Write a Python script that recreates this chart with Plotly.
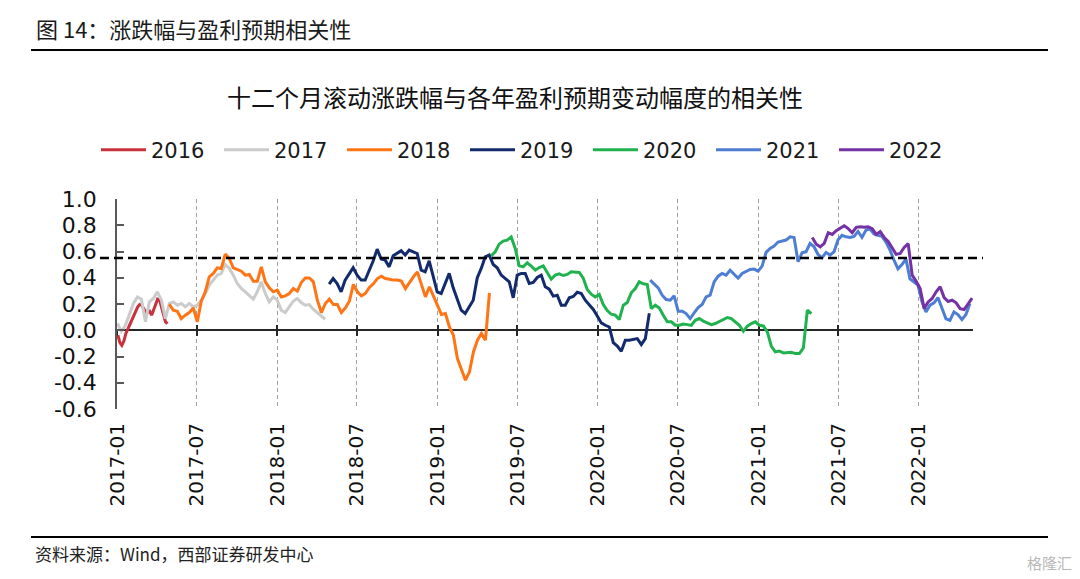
import plotly.graph_objects as go
import pandas as pd

# ---------------- data ----------------
SERIES_NAMES = ["2016", "2017", "2018", "2019", "2020", "2021", "2022"]
SERIES_START = ["2017-01-03", "2017-01-02", "2017-04-30", "2018-04-29", "2019-05-03", "2020-04-29", "2021-05-03"]
SERIES_END = ["2017-04-26", "2018-04-20", "2019-04-29", "2020-04-27", "2021-05-01", "2022-04-27", "2022-05-02"]

V2016 = [-0.038, -0.094, -0.115, -0.084, -0.025, 0.008, 0.043, 0.076, 0.109, 0.153, 0.178, 0.196, 0.191,
         0.165, 0.135, 0.135, 0.145, 0.115, 0.153, 0.196, 0.237, 0.229, 0.178, 0.135, 0.064, 0.051]

V2017 = [0.051, -0.008, 0.038, 0.115, 0.204, 0.254, 0.237, 0.064, 0.216, 0.242,
         0.293, 0.229, 0.089, 0.204, 0.216, 0.191, 0.204, 0.178, 0.204, 0.178,
         0.191, 0.229, 0.280, 0.344, 0.382, 0.420, 0.433, 0.501, 0.471, 0.420,
         0.356, 0.318, 0.293, 0.267, 0.237, 0.293, 0.369, 0.280, 0.216, 0.254,
         0.229, 0.153, 0.135, 0.178, 0.221, 0.242, 0.211, 0.191, 0.196, 0.160,
         0.135, 0.109, 0.084]

V2018 = [0.198, 0.153, 0.145, 0.089, 0.115, 0.135, 0.170, 0.064, 0.221, 0.293,
         0.407, 0.433, 0.476, 0.471, 0.580, 0.547, 0.476, 0.463, 0.450, 0.420,
         0.425, 0.374, 0.374, 0.483, 0.369, 0.323, 0.293, 0.305, 0.254, 0.262,
         0.280, 0.318, 0.298, 0.364, 0.399, 0.399, 0.369, 0.229, 0.135, 0.204,
         0.237, 0.196, 0.196, 0.135, 0.170, 0.221, 0.349, 0.293, 0.262, 0.280,
         0.326, 0.354, 0.394, 0.412, 0.394, 0.389, 0.382, 0.382, 0.374, 0.318,
         0.364, 0.407, 0.445, 0.356, 0.254, 0.331, 0.254, 0.191, 0.120, 0.127,
         0.025, -0.038, -0.216, -0.293, -0.380, -0.318, -0.165, -0.076, -0.025, -0.076,
         0.285]

V2019 = [0.351, 0.394, 0.356, 0.293, 0.382, 0.433, 0.476, 0.420, 0.382, 0.382,
         0.450, 0.527, 0.618, 0.542, 0.534, 0.483, 0.567, 0.590, 0.606, 0.573,
         0.611, 0.598, 0.585, 0.458, 0.445, 0.529, 0.420, 0.293, 0.280, 0.356,
         0.433, 0.323, 0.242, 0.153, 0.127, 0.178, 0.229, 0.399, 0.471, 0.560,
         0.573, 0.501, 0.476, 0.420, 0.394, 0.369, 0.247, 0.420, 0.433, 0.433,
         0.356, 0.364, 0.402, 0.420, 0.331, 0.313, 0.260, 0.267, 0.191, 0.191,
         0.247, 0.257, 0.290, 0.280, 0.229, 0.191, 0.158, 0.109, 0.056, 0.038,
         0.025, -0.094, -0.120, -0.160, -0.076, -0.076, -0.069, -0.064, -0.109, -0.064,
         0.130]

V2020 = [0.567, 0.598, 0.656, 0.679, 0.687, 0.710, 0.623, 0.491, 0.483, 0.514,
         0.489, 0.458, 0.478, 0.491, 0.440, 0.389, 0.420, 0.430, 0.417, 0.425,
         0.445, 0.445, 0.440, 0.397, 0.310, 0.275, 0.254, 0.272, 0.196, 0.150,
         0.122, 0.115, 0.081, 0.191, 0.211, 0.285, 0.318, 0.369, 0.354, 0.349,
         0.165, 0.191, 0.170, 0.115, 0.064, 0.064, 0.038, 0.038, 0.048, 0.043,
         0.038, 0.076, 0.089, 0.069, 0.059, 0.043, 0.051, 0.066, 0.081, 0.097,
         0.089, 0.064, 0.038, -0.008, 0.031, 0.051, 0.064, 0.038, 0.033, -0.013,
         -0.122, -0.165, -0.158, -0.173, -0.173, -0.168, -0.178, -0.178, -0.135, 0.153,
         0.127]

V2021 = [0.382, 0.349, 0.323, 0.267, 0.234, 0.229, 0.262, 0.145, 0.145, 0.127,
         0.089, 0.132, 0.173, 0.196, 0.254, 0.267, 0.369, 0.412, 0.433, 0.420,
         0.458, 0.427, 0.397, 0.433, 0.450, 0.463, 0.466, 0.450, 0.489, 0.593,
         0.623, 0.641, 0.672, 0.682, 0.687, 0.712, 0.707, 0.522, 0.590, 0.598,
         0.662, 0.636, 0.577, 0.552, 0.593, 0.573, 0.598, 0.690, 0.723, 0.712,
         0.707, 0.715, 0.753, 0.707, 0.763, 0.771, 0.733, 0.723, 0.715, 0.672,
         0.611, 0.534, 0.468, 0.501, 0.542, 0.392, 0.366, 0.344, 0.216, 0.140,
         0.191, 0.209, 0.249, 0.173, 0.087, 0.076, 0.140, 0.120, 0.081, 0.120,
         0.204]

V2022 = [0.707, 0.656, 0.636, 0.662, 0.743, 0.730, 0.758, 0.776, 0.796, 0.774,
         0.743, 0.784, 0.789, 0.784, 0.789, 0.774, 0.730, 0.751, 0.707, 0.677,
         0.631, 0.578, 0.585, 0.631, 0.660, 0.420, 0.374, 0.318, 0.165, 0.216,
         0.242, 0.293, 0.331, 0.249, 0.219, 0.229, 0.209, 0.165, 0.158, 0.201,
         0.244]

SERIES_VALUES = [V2016, V2017, V2018, V2019, V2020, V2021, V2022]
SERIES_COLORS = ["#C8323C", "#CBCBCB", "#FF7415", "#132A6C", "#20B24E", "#4E7ED3", "#7432A4"]

THRESHOLD = 0.55

X_RANGE = ["2017-01-01", "2022-05-04"]
TICK_DATES = ["2017-01-01", "2017-07-01", "2018-01-01", "2018-07-01", "2019-01-01", "2019-07-01",
              "2020-01-01", "2020-07-01", "2021-01-01", "2021-07-01", "2022-01-01"]
TICK_LABELS = ["2017-01", "2017-07", "2018-01", "2018-07", "2019-01", "2019-07",
               "2020-01", "2020-07", "2021-01", "2021-07", "2022-01"]
Y_TICKS = [-0.6, -0.4, -0.2, 0.0, 0.2, 0.4, 0.6, 0.8, 1.0]
Y_LABELS = ["-0.6", "-0.4", "-0.2", "0.0", "0.2", "0.4", "0.6", "0.8", "1.0"]

HEADER = "图 14：涨跌幅与盈利预期相关性"
TITLE = "十二个月滚动涨跌幅与各年盈利预期变动幅度的相关性"
SOURCE = "资料来源：Wind，西部证券研发中心"
WATERMARK = "格隆汇"

# ---------------- layout geometry (pixels of the 1080x579 window) ----------------
OFF = 8                      # page body margin of the browser
W, H = 1080 - OFF, 579 - OFF
ML, MR, MT, MB = 117 - OFF, 107, 199 - OFF, 170
PW = W - ML - MR
PH = H - MT - MB


def px(x):
    return (x - OFF - ML) / PW


def py(y):
    return (H - MB - (y - OFF)) / PH


LATIN = "DejaVu Sans"
CJK = "Noto Sans CJK SC"

fig = go.Figure()
for name, start, end, vals, color in zip(SERIES_NAMES, SERIES_START, SERIES_END, SERIES_VALUES, SERIES_COLORS):
    dates = pd.date_range(start, end, periods=len(vals))
    fig.add_trace(go.Scatter(x=dates, y=vals, mode="lines", name=name,
                             line=dict(color=color, width=3), hoverinfo="skip"))

# helper traces so the zero-line axes get drawn
fig.add_trace(go.Scatter(x=[], y=[], xaxis="x2", showlegend=False, hoverinfo="skip"))
fig.add_trace(go.Scatter(x=[], y=[], xaxis="x3", showlegend=False, hoverinfo="skip"))

zero_pos = (0 - Y_TICKS[0]) / (Y_TICKS[-1] - Y_TICKS[0])

fig.update_layout(
    width=W, height=H,
    margin=dict(l=ML, r=MR, t=MT, b=MB, pad=0),
    paper_bgcolor="white", plot_bgcolor="white",
    showlegend=True,
    legend=dict(orientation="h", x=px(96), y=py(150), xanchor="left", yanchor="middle",
                font=dict(family=LATIN, size=21, color="#1a1a1a"),
                itemwidth=45, entrywidth=63, entrywidthmode="pixels",
                bgcolor="rgba(0,0,0,0)", traceorder="normal"),
    xaxis=dict(type="date", range=X_RANGE, tickvals=TICK_DATES, ticktext=TICK_LABELS,
               tickangle=-90, tickfont=dict(family=LATIN, size=20, color="#111"),
               showgrid=True, gridcolor="#a0a0a0", gridwidth=1, griddash="4px,3px",
               showline=False, zeroline=False, ticks="", ticklabelstandoff=9),
    xaxis2=dict(type="date", overlaying="x", matches="x", anchor="free", position=zero_pos,
                tickvals=TICK_DATES, showticklabels=False, showgrid=False, zeroline=False,
                showline=True, linecolor="#262626", linewidth=1.5, layer="below traces",
                ticks="outside", ticklen=5, tickwidth=1.5, tickcolor="#262626"),
    xaxis3=dict(type="date", overlaying="x", matches="x", anchor="free", position=zero_pos,
                tickvals=TICK_DATES, showticklabels=False, showgrid=False, zeroline=False,
                showline=False, layer="below traces",
                ticks="inside", ticklen=5, tickwidth=1.5, tickcolor="#262626"),
    yaxis=dict(range=[Y_TICKS[0], Y_TICKS[-1]], tickvals=Y_TICKS, ticktext=Y_LABELS,
               tickfont=dict(family=LATIN, size=22, color="#111"),
               showline=True, linecolor="#595959", linewidth=1.5,
               ticks="inside", ticklen=7, tickwidth=1.5, tickcolor="#595959",
               showgrid=False, zeroline=False, ticklabelstandoff=14),
)

fig.add_shape(type="line", xref="paper", yref="y", x0=px(100), x1=px(983),
              y0=THRESHOLD, y1=THRESHOLD, line=dict(color="black", width=2.5, dash="9px,5px"),
              layer="above")
fig.add_shape(type="line", xref="paper", yref="paper", x0=px(31), x1=px(1048),
              y0=py(50), y1=py(50), line=dict(color="black", width=2))
fig.add_shape(type="line", xref="paper", yref="paper", x0=px(31), x1=px(1048),
              y0=py(537), y1=py(537), line=dict(color="black", width=2))

fig.add_annotation(text=HEADER, xref="paper", yref="paper", x=px(34), y=py(28),
                   xanchor="left", yanchor="middle", showarrow=False,
                   font=dict(family=CJK, size=22, color="#1a1a1a"))
fig.add_annotation(text=TITLE, xref="paper", yref="paper", x=px(515), y=py(97),
                   xanchor="center", yanchor="middle", showarrow=False,
                   font=dict(family=CJK, size=24, color="#111"))
fig.add_annotation(text=SOURCE, xref="paper", yref="paper", x=px(33), y=py(553),
                   xanchor="left", yanchor="middle", showarrow=False,
                   font=dict(family=CJK, size=17, color="#222"))
fig.add_annotation(text=WATERMARK, xref="paper", yref="paper", x=px(1074), y=py(562),
                   xanchor="right", yanchor="middle", showarrow=False,
                   font=dict(family=CJK, size=15, color="#b8b8b8"))

fig.write_html("out.html")
